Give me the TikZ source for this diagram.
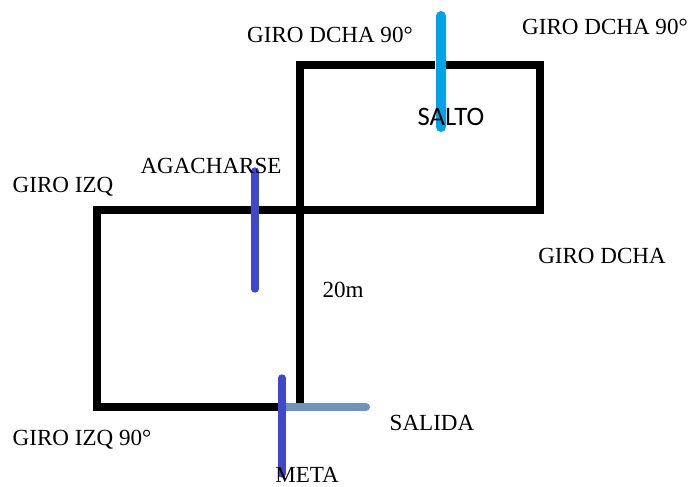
\documentclass[tikz,border=0pt]{standalone}
\usepackage{fontspec}
\setmainfont{Liberation Serif}
\newfontfamily\saltofont{Carlito}
\usepackage{tikz}
\usetikzlibrary{positioning}

\definecolor{paintcyan}{RGB}{0,162,232}
\definecolor{paintindigo}{RGB}{63,72,204}
\definecolor{paintsteel}{RGB}{112,146,190}

\begin{document}
\begin{tikzpicture}[
    x=0.75pt, y=-0.75pt,
    track/.style={line width=6.3pt, black, line cap=rect, line join=miter},
    mark line/.style={line width=5.5pt, line cap=round},
    lbl/.style={font=\fontsize{17.3}{19}\selectfont, inner sep=0pt},
]
\useasboundingbox (0,0) rectangle (688,486);

% Corners of the route
\coordinate (tl) at (300,65);
\coordinate (gapl) at (431,65);
\coordinate (gapr) at (449,65);
\coordinate (tr) at (540,65);
\coordinate (br) at (540,210);
\coordinate (ml) at (97,210);
\coordinate (bl) at (97,407);
\coordinate (bm) at (282,407);
\coordinate (mb) at (300,403);

% Route
\draw[track] (gapl) -- (tl) -- (mb);
\draw[track] (gapr) -- (tr) -- (br) -- (ml) -- (bl) -- (bm);

% Markers
\coordinate (saltotop) at (441,16);
\coordinate (saltobot) at (441,127);
\coordinate (agtop) at (255,171);
\coordinate (agbot) at (255,289);
\coordinate (metatop) at (282,378);
\coordinate (metabot) at (282,474);
\coordinate (salstart) at (284,407);
\coordinate (salend) at (366,407);

\draw[mark line, paintcyan, line width=7.5pt] (saltotop) -- (saltobot);
\draw[mark line, paintindigo] (agtop) -- (agbot);
\draw[mark line, paintsteel, line width=6pt] (salstart) -- (salend);
\draw[mark line, paintindigo] (metatop) -- (metabot);

% Labels
\node[lbl] (g1) at (330,35) {GIRO DCHA 90°};
\node[lbl] (g2) at (605,27) {GIRO DCHA 90°};
\node[inner sep=0pt, font=\saltofont\fontsize{20}{22}\selectfont] (salto) at (451,117) {SALTO};
\node[lbl] (agach) at (211,166) {AGACHARSE};
\node[lbl] (gizq) at (63,187) {GIRO IZQ};
\node[lbl] (gdcha) at (602,256) {GIRO DCHA};
\node[lbl] (dist) at (343,290) {20m};
\node[lbl] (gizq2) at (82,440) {GIRO IZQ 90°};
\node[lbl] (salida) at (432,423) {SALIDA};
\node[lbl] (meta) at (307,475) {META};

\end{tikzpicture}
\end{document}
